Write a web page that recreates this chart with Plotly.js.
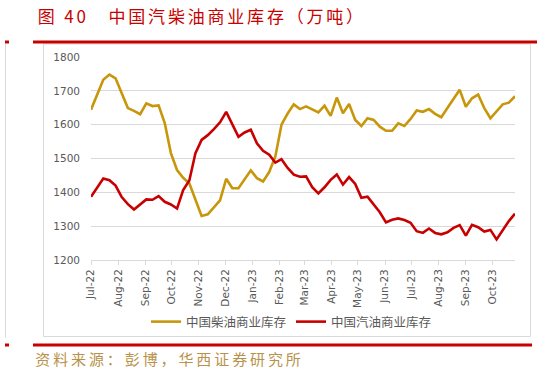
<!DOCTYPE html>
<html>
<head>
<meta charset="utf-8">
<script src="https://cdn.plot.ly/plotly-3.0.1.min.js"></script>
<style>
html,body{margin:0;padding:0;background:#fff;}
#chart{width:537px;height:371px;}
g.annotation[data-index="0"] text{letter-spacing:2.8px;}
g.annotation[data-index="1"] text{letter-spacing:2.9px;}
</style>
</head>
<body>
<div id="chart"></div>
<script>
const dates = [
"2022-07-01","2022-07-08","2022-07-15","2022-07-22","2022-07-29",
"2022-08-05","2022-08-12","2022-08-19","2022-08-26",
"2022-09-02","2022-09-09","2022-09-16","2022-09-23","2022-09-30",
"2022-10-07","2022-10-14","2022-10-21","2022-10-28",
"2022-11-04","2022-11-11","2022-11-18","2022-11-25",
"2022-12-02","2022-12-09","2022-12-16","2022-12-23","2022-12-30",
"2023-01-06","2023-01-13","2023-01-20","2023-01-27",
"2023-02-03","2023-02-10","2023-02-17","2023-02-24",
"2023-03-03","2023-03-10","2023-03-17","2023-03-24","2023-03-31",
"2023-04-07","2023-04-14","2023-04-21","2023-04-28",
"2023-05-05","2023-05-12","2023-05-19","2023-05-26",
"2023-06-02","2023-06-09","2023-06-16","2023-06-23","2023-06-30",
"2023-07-07","2023-07-14","2023-07-21","2023-07-28",
"2023-08-04","2023-08-11","2023-08-18","2023-08-25",
"2023-09-01","2023-09-08","2023-09-15","2023-09-22","2023-09-29",
"2023-10-06","2023-10-13","2023-10-20","2023-10-27"
];
const diesel = [
1644,1690,1733,1748,1737,1693,1649,1641,1631,1663,
1655,1657,1605,1516,1466,1443,1427,1378,1330,1335,
1355,1376,1440,1412,1412,1440,1465,1442,1432,1460,
1506,1600,1633,1660,1646,1654,1646,1636,1656,1626,
1680,1634,1661,1614,1596,1619,1614,1594,1582,1582,
1604,1596,1617,1642,1638,1646,1632,1622,1649,1678,
1703,1653,1678,1689,1649,1619,1638,1660,1665,1684
];
const gasoline = [
1387,1415,1441,1436,1420,1386,1365,1349,1365,1379,
1378,1389,1372,1364,1352,1407,1435,1516,1555,1569,
1587,1607,1638,1601,1564,1577,1585,1545,1523,1511,
1488,1498,1472,1452,1446,1447,1415,1397,1415,1437,
1453,1423,1445,1425,1384,1387,1364,1341,1311,1319,
1323,1318,1310,1285,1280,1293,1280,1276,1282,1295,
1303,1272,1304,1297,1284,1289,1261,1287,1315,1337
];
const seriesNames = ["中国柴油商业库存","中国汽油商业库存"];
const titleText = "图 40　中国汽柴油商业库存（万吨）";
const sourceText = "资料来源：彭博，华西证券研究所";
const yTicks = [1200,1300,1400,1500,1600,1700,1800];

// plot area in pixels
const L = 91, R = 515, T = 57, B = 260;
const W = R - L, H = B - T;
const px = v => (v - L) / W;
const py = v => (B - v) / H;

const traces = [
  {x: dates, y: diesel, name: seriesNames[0], type: "scatter", mode: "lines",
   line: {color: "#C8960A", width: 2.6}},
  {x: dates, y: gasoline, name: seriesNames[1], type: "scatter", mode: "lines",
   line: {color: "#C80000", width: 2.6}}
];

const red = "#C80000";
const layout = {
  width: 537, height: 371,
  margin: {l: L, r: 537 - R, t: T, b: 371 - B, pad: 0},
  paper_bgcolor: "#ffffff", plot_bgcolor: "#ffffff",
  font: {family: "DejaVu Sans, sans-serif", size: 10.5, color: "#595959"},
  showlegend: true,
  legend: {orientation: "h", x: px(146), xanchor: "left", y: py(322), yanchor: "middle",
           font: {family: "Noto Sans CJK SC, sans-serif", size: 12.5, color: "#595959"},
           bgcolor: "rgba(0,0,0,0)", tracegroupgap: 0, itemwidth: 30},
  xaxis: {
    type: "date", range: ["2022-07-01", "2023-10-27"],
    tick0: "2022-07-01", dtick: "M1", tickformat: "%b-%y", tickangle: -90,
    ticks: "outside", ticklen: 4, tickcolor: "#d9d9d9", tickwidth: 1,
    showgrid: false, showline: true, linecolor: "#d9d9d9", linewidth: 1,
    zeroline: false, fixedrange: true,
    tickfont: {family: "DejaVu Sans, sans-serif", size: 10.5, color: "#595959"}
  },
  yaxis: {
    range: [1200, 1800], tickvals: yTicks, ticktext: yTicks.map(String),
    showgrid: true, gridcolor: "#d9d9d9", gridwidth: 1, zeroline: false,
    showline: false, ticks: "", ticklabelstandoff: 10, fixedrange: true,
    tickfont: {family: "DejaVu Sans, sans-serif", size: 10.5, color: "#595959"}
  },
  shapes: [
    {type: "rect", xref: "paper", yref: "paper", x0: px(43.5), x1: px(530.5), y0: py(336.5), y1: py(44),
     line: {color: "#d9d9d9", width: 1}, fillcolor: "rgba(0,0,0,0)", layer: "below"},
    {type: "line", xref: "paper", yref: "paper", x0: px(5.5), x1: px(5.5), y0: py(44), y1: py(338),
     line: {color: "#d9d9d9", width: 1}},
    {type: "line", xref: "paper", yref: "paper", x0: px(33), x1: px(537), y0: py(42), y1: py(42),
     line: {color: red, width: 3}},
    {type: "rect", xref: "paper", yref: "paper", x0: px(5), x1: px(9), y0: py(43.5), y1: py(40.5),
     line: {width: 0}, fillcolor: red},
    {type: "line", xref: "paper", yref: "paper", x0: px(33), x1: px(532), y0: py(345), y1: py(345),
     line: {color: red, width: 3}},
    {type: "rect", xref: "paper", yref: "paper", x0: px(5), x1: px(9), y0: py(346.5), y1: py(343.5),
     line: {width: 0}, fillcolor: red}
  ],
  annotations: [
    {text: titleText, xref: "paper", yref: "paper", x: px(61), y: py(16), xanchor: "left", yanchor: "middle",
     showarrow: false, font: {family: "Noto Sans CJK SC, sans-serif", size: 17, color: red}},
    {text: sourceText, xref: "paper", yref: "paper", x: px(55), y: py(358), xanchor: "left", yanchor: "middle",
     showarrow: false, font: {family: "Noto Sans CJK SC, sans-serif", size: 15, color: "#B8924A"}}
  ]
};

Plotly.newPlot("chart", traces, layout, {displayModeBar: false, staticPlot: true});
</script>
</body>
</html>
